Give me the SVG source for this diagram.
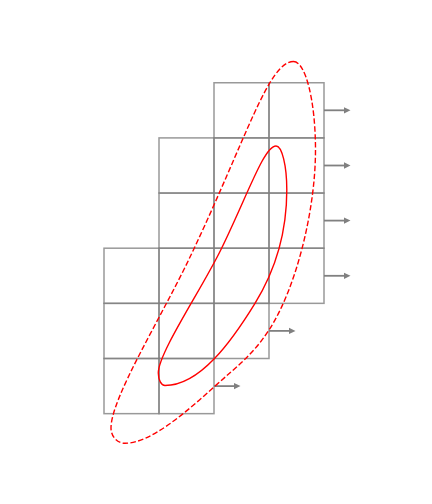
<svg xmlns="http://www.w3.org/2000/svg" width="432" height="504" viewBox="0 0 432 504">
<style>
.cell{fill:none;stroke:#808080;stroke-opacity:0.8;stroke-width:1.5}
.arr{stroke:#808080;stroke-width:1.8;fill:none}
.curve{fill:none;stroke:#ff0000;stroke-width:1.4}
.dash{stroke-dasharray:5.5 2.4}
</style>
<defs>
<marker id="ah" markerWidth="8" markerHeight="8" refX="0.5" refY="4" orient="auto" markerUnits="userSpaceOnUse">
<path d="M0,0.6 L7,4 L0,7.4 Z" fill="#808080"/>
</marker>
</defs>
<rect width="432" height="504" fill="#ffffff"/>
<g id="cells">
<g id="c-0-3"><rect class="cell" x="214" y="82.75" width="55" height="55.15"/></g>
<g id="c-0-4"><rect class="cell" x="269" y="82.75" width="55" height="55.15"/></g>
<g id="c-1-2"><rect class="cell" x="159" y="137.9" width="55" height="55.15"/></g>
<g id="c-1-3"><rect class="cell" x="214" y="137.9" width="55" height="55.15"/></g>
<g id="c-1-4"><rect class="cell" x="269" y="137.9" width="55" height="55.15"/></g>
<g id="c-2-2"><rect class="cell" x="159" y="193.05" width="55" height="55.15"/></g>
<g id="c-2-3"><rect class="cell" x="214" y="193.05" width="55" height="55.15"/></g>
<g id="c-2-4"><rect class="cell" x="269" y="193.05" width="55" height="55.15"/></g>
<g id="c-3-1"><rect class="cell" x="104" y="248.2" width="55" height="55.15"/></g>
<g id="c-3-2"><rect class="cell" x="159" y="248.2" width="55" height="55.15"/></g>
<g id="c-3-3"><rect class="cell" x="214" y="248.2" width="55" height="55.15"/></g>
<g id="c-3-4"><rect class="cell" x="269" y="248.2" width="55" height="55.15"/></g>
<g id="c-4-1"><rect class="cell" x="104" y="303.35" width="55" height="55.15"/></g>
<g id="c-4-2"><rect class="cell" x="159" y="303.35" width="55" height="55.15"/></g>
<g id="c-4-3"><rect class="cell" x="214" y="303.35" width="55" height="55.15"/></g>
<g id="c-5-1"><rect class="cell" x="104" y="358.5" width="55" height="55.15"/></g>
<g id="c-5-2"><rect class="cell" x="159" y="358.5" width="55" height="55.15"/></g>
</g>
<g id="connectors">
<line class="arr" x1="324" y1="110.3" x2="344" y2="110.3" marker-end="url(#ah)"/>
<line class="arr" x1="324" y1="165.5" x2="344" y2="165.5" marker-end="url(#ah)"/>
<line class="arr" x1="324" y1="220.6" x2="344" y2="220.6" marker-end="url(#ah)"/>
<line class="arr" x1="324" y1="275.8" x2="344" y2="275.8" marker-end="url(#ah)"/>
<line class="arr" x1="269" y1="330.9" x2="289" y2="330.9" marker-end="url(#ah)"/>
<line class="arr" x1="214" y1="386.1" x2="234" y2="386.1" marker-end="url(#ah)"/>
</g>
<g id="regions">
<path id="outer" class="curve dash" d="M293.5 61.5 C305.6 61.5 315.5 101 315.5 150 C315.5 210 296.25 288.1 269 330 C252.65 355.14 236.26 366.9 214 387 C184.3 413.8 150 443.3 125 443.3 C117.3 443.3 111 436.4 111 428 C111 398 161 318.2 191 255 C246.8 137.6 268.5 61.5 293.5 61.5 Z"/>
<path id="inner" class="curve" d="M276 146 C282 146 286.8 165.7 286.8 190 C286.8 240 270.75 277.8 255 303.3 C231.4 341.6 200 385.5 165 385.5 C161.3 385.5 158.3 379.9 158.3 373 C158.3 353 201.2 289.9 221 249.5 C247.4 195.6 264 146 276 146 Z"/>
</g>
</svg>
